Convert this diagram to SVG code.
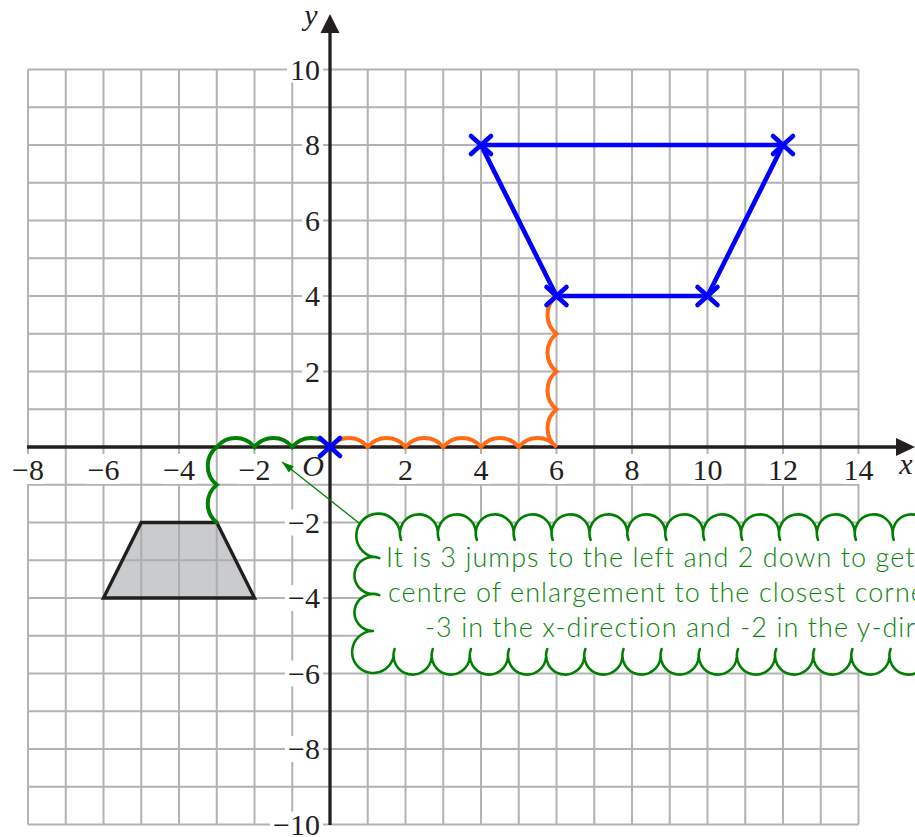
<svg xmlns="http://www.w3.org/2000/svg" xmlns:xlink="http://www.w3.org/1999/xlink" width="915" height="837" viewBox="0 0 915 837">
<style>
.grid{stroke:#b3b3b5;stroke-width:2;fill:none}
.ko{fill:#ffffff}
.lab{font-family:"Liberation Serif","Times New Roman",serif;font-size:30px;fill:#231f20}
.it{font-style:italic}
.axis{stroke:#231f20;stroke-width:3.3;fill:none}
.blue{stroke:#0000ff;stroke-width:4.6;fill:none;stroke-linejoin:round;stroke-linecap:round}
.jump{fill:none;stroke-width:4;stroke-linecap:round}
.cloudfill{fill:#ffffff;stroke:none}
.cloudline{fill:none;stroke:#008000;stroke-width:2.6;stroke-linecap:round}
.note{font-family:"Lato","Open Sans",sans-serif;font-weight:300;font-size:27px;letter-spacing:1.05px;fill:#0b860b}
</style>
<defs>
<path id="xm" d="M-10,-9L10,9M-10,9L10,-9"/>
<marker id="ah" markerUnits="userSpaceOnUse" markerWidth="12" markerHeight="8" refX="12" refY="4" orient="auto">
<path d="M0,0L12,4L0,8z" fill="#008000"/>
</marker>
<path id="cloudArcs" d="M373,557A22,22 0 1 1 400,532
M401.1,539.9A19,19 0 1 1 437.9,532
M439,539.9A19,19 0 1 1 475.8,532
M476.9,539.9A19,19 0 1 1 513.7,532
M514.8,539.9A19,19 0 1 1 551.6,532
M552.7,539.9A19,19 0 1 1 589.5,532
M590.6,539.9A19,19 0 1 1 627.4,532
M628.5,539.9A19,19 0 1 1 665.3,532
M666.4,539.9A19,19 0 1 1 703.2,532
M704.3,539.9A19,19 0 1 1 741.1,532
M742.2,539.9A19,19 0 1 1 779,532
M780.1,539.9A19,19 0 1 1 816.9,532
M818,539.9A19,19 0 1 1 854.8,532
M855.9,539.9A19,19 0 1 1 892.7,532
M893.8,539.9A19,19 0 1 1 930.6,532
M379.33,558.12A18.5,18.5 0 1 0 373,594
M379.33,595.12A18.5,18.5 0 1 0 373,631
M373,631A21,21 0 1 0 393.5,657
M394.6,649.1A19.1,19.1 0 1 0 431.65,657
M432.75,649.1A19.1,19.1 0 1 0 469.8,657
M470.9,649.1A19.1,19.1 0 1 0 507.95,657
M509.05,649.1A19.1,19.1 0 1 0 546.1,657
M547.2,649.1A19.1,19.1 0 1 0 584.25,657
M585.35,649.1A19.1,19.1 0 1 0 622.4,657
M623.5,649.1A19.1,19.1 0 1 0 660.55,657
M661.65,649.1A19.1,19.1 0 1 0 698.7,657
M699.8,649.1A19.1,19.1 0 1 0 736.85,657
M737.95,649.1A19.1,19.1 0 1 0 775,657
M776.1,649.1A19.1,19.1 0 1 0 813.15,657
M814.25,649.1A19.1,19.1 0 1 0 851.3,657
M852.4,649.1A19.1,19.1 0 1 0 889.45,657
M890.55,649.1A19.1,19.1 0 1 0 927.6,657"/>
</defs>
<rect width="915" height="837" fill="#ffffff"/>

<g id="grid">
<path class="grid" d="M28,69.5V824.5M65.75,69.5V824.5M103.5,69.5V824.5M141.25,69.5V824.5M179,69.5V824.5M216.75,69.5V824.5M254.5,69.5V824.5M292.25,69.5V824.5M367.75,69.5V824.5M405.5,69.5V824.5M443.25,69.5V824.5M481,69.5V824.5M518.75,69.5V824.5M556.5,69.5V824.5M594.25,69.5V824.5M632,69.5V824.5M669.75,69.5V824.5M707.5,69.5V824.5M745.25,69.5V824.5M783,69.5V824.5M820.75,69.5V824.5M858.5,69.5V824.5
M28,69.5H858.5M28,107.25H858.5M28,145H858.5M28,182.75H858.5M28,220.5H858.5M28,258.25H858.5M28,296H858.5M28,333.75H858.5M28,371.5H858.5M28,409.25H858.5M28,484.75H858.5M28,522.5H858.5M28,560.25H858.5M28,598H858.5M28,635.75H858.5M28,673.5H858.5M28,711.25H858.5M28,749H858.5M28,786.75H858.5M28,824.5H858.5"/>
</g>

<g id="label-knockouts">
<rect class="ko" x="287" y="56.5" width="36" height="26"/>
<rect class="ko" x="302" y="132" width="21" height="26"/>
<rect class="ko" x="302" y="207.5" width="21" height="26"/>
<rect class="ko" x="302" y="283" width="21" height="26"/>
<rect class="ko" x="302" y="358.5" width="21" height="26"/>
<rect class="ko" x="285" y="509.5" width="38" height="26"/>
<rect class="ko" x="285" y="585" width="38" height="26"/>
<rect class="ko" x="285" y="660.5" width="38" height="26"/>
<rect class="ko" x="285" y="736" width="38" height="26"/>
<rect class="ko" x="270" y="811.5" width="53" height="26"/>
<rect class="ko" x="11" y="454" width="34" height="30"/>
<rect class="ko" x="86.5" y="454" width="34" height="30"/>
<rect class="ko" x="162" y="454" width="34" height="30"/>
<rect class="ko" x="237.5" y="454" width="34" height="30"/>
<rect class="ko" x="396" y="454" width="19" height="30"/>
<rect class="ko" x="471.5" y="454" width="19" height="30"/>
<rect class="ko" x="547" y="454" width="19" height="30"/>
<rect class="ko" x="622.5" y="454" width="19" height="30"/>
<rect class="ko" x="690.5" y="454" width="34" height="30"/>
<rect class="ko" x="766" y="454" width="34" height="30"/>
<rect class="ko" x="841.5" y="454" width="34" height="30"/>
</g>

<g id="y-labels" class="lab" text-anchor="end">
<text x="320" y="79.5">10</text>
<text x="320" y="155">8</text>
<text x="320" y="230.5">6</text>
<text x="320" y="306">4</text>
<text x="320" y="381.5">2</text>
<text x="320" y="532.5">−2</text>
<text x="320" y="608">−4</text>
<text x="320" y="683.5">−6</text>
<text x="320" y="759">−8</text>
<text x="320" y="834.5">−10</text>
</g>
<g id="x-labels" class="lab" text-anchor="middle">
<text x="28" y="480">−8</text>
<text x="103.5" y="480">−6</text>
<text x="179" y="480">−4</text>
<text x="254.5" y="480">−2</text>
<text x="405.5" y="480">2</text>
<text x="481" y="480">4</text>
<text x="556.5" y="480">6</text>
<text x="632" y="480">8</text>
<text x="707.5" y="480">10</text>
<text x="783" y="480">12</text>
<text x="858.5" y="480">14</text>
<text class="it" x="313" y="476">O</text>
<text class="it" x="906" y="474">x</text>
<text class="it" x="311" y="25">y</text>
</g>

<g id="axes">
<path class="axis" d="M27,447H898M330,825V32"/>
<path d="M915,447L896,438V456Z" fill="#231f20"/>
<path d="M330,14L320.5,33H339.5Z" fill="#231f20"/>
</g>

<g id="object-trapezoid">
<polygon points="141.25,522.5 216.75,522.5 254.5,598 103.5,598" fill="#a7a9ac" fill-opacity="0.6" stroke="#231f20" stroke-width="3.4" stroke-linejoin="miter"/>
</g>

<g id="connectors">
<path id="orange-jumps" class="jump" stroke="#ff6a13" d="M330,447A24.3,24.3 0 0 1 367.75,447A24.3,24.3 0 0 1 405.5,447A24.3,24.3 0 0 1 443.25,447A24.3,24.3 0 0 1 481,447A24.3,24.3 0 0 1 518.75,447A24.3,24.3 0 0 1 556.5,447A24.3,24.3 0 0 1 556.5,409.25A24.3,24.3 0 0 1 556.5,371.5A24.3,24.3 0 0 1 556.5,333.75A24.3,24.3 0 0 1 556.5,296"/>
<path id="green-jumps" class="jump" stroke="#008000" d="M330,447A24.3,24.3 0 0 0 292.25,447A24.3,24.3 0 0 0 254.5,447A24.3,24.3 0 0 0 216.75,447A24.3,24.3 0 0 0 216.75,484.75A24.3,24.3 0 0 0 216.75,522.5"/>
<line id="note-arrow" x1="364" y1="527" x2="282" y2="462" stroke="#008000" stroke-width="1.3" marker-end="url(#ah)"/>
</g>

<g id="image-trapezoid">
<polygon class="blue" points="481,145 783,145 707.5,296 556.5,296"/>
<g class="blue">
<use xlink:href="#xm" href="#xm" transform="translate(481,145)"/>
<use xlink:href="#xm" href="#xm" transform="translate(783,145)"/>
<use xlink:href="#xm" href="#xm" transform="translate(707.5,296)"/>
<use xlink:href="#xm" href="#xm" transform="translate(556.5,296)"/>
</g>
</g>

<g id="centre" class="blue">
<use xlink:href="#xm" href="#xm" transform="translate(330,447)"/>
</g>

<g id="callout">
<rect class="cloudfill" x="373" y="532" width="580" height="125"/>
<use class="cloudfill" xlink:href="#cloudArcs" href="#cloudArcs"/>
<use class="cloudline" xlink:href="#cloudArcs" href="#cloudArcs"/>
<text class="note" x="386" y="567">It is 3 jumps to the left and 2 down to get</text>
<text class="note" x="388" y="602">centre of enlargement to the closest corner</text>
<text class="note" x="425" y="637">-3 in the x-direction and -2 in the y-direction</text>
</g>
</svg>
